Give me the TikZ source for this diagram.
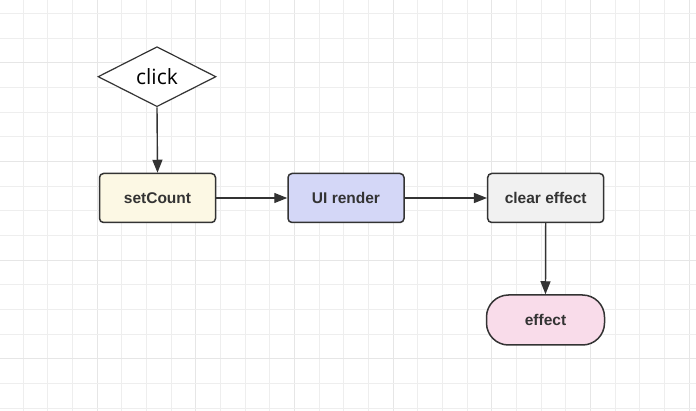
\documentclass[tikz,border=0pt]{standalone}
\usepackage{fontspec}
\setmainfont{Liberation Sans}
\newfontfamily\clickfont{Open Sans}
\usetikzlibrary{shapes.geometric,arrows.meta}
\definecolor{gridminor}{HTML}{EEEEEE}
\definecolor{gridmajor}{HTML}{E6E6E6}
\definecolor{edgec}{HTML}{333333}
\definecolor{textc}{HTML}{333333}
\definecolor{fillset}{HTML}{FCF8E4}
\definecolor{fillui}{HTML}{D4D7F7}
\definecolor{fillclear}{HTML}{F1F1F1}
\definecolor{filleffect}{HTML}{F9DCEA}
\tikzset{
  boxnode/.style={draw=edgec, line width=1.5pt, rounded corners=4pt,
    minimum width=116pt, minimum height=49pt, inner sep=0pt,
    text=textc, font=\bfseries\fontsize{15.5}{18}\selectfont},
  pillnode/.style={boxnode, rounded corners=22pt},
  decisionnode/.style={diamond, draw=edgec, line width=1.2pt, fill=white,
    shape aspect=1.97, minimum width=118pt, minimum height=60pt, inner sep=0pt,
    text=black, font=\clickfont\fontsize{21}{24}\selectfont},
  flowarrow/.style={draw=edgec, line width=1.4pt,
    -{Triangle[length=13pt,width=10pt]}},
  minorline/.style={gridminor, line width=1pt},
  majorline/.style={gridmajor, line width=1pt}
}
\begin{document}
\begin{tikzpicture}[x=1pt,y=-1pt]
\useasboundingbox (0,0) rectangle (696,411);
\fill[white] (0,0) rectangle (696,411);
% grid
\foreach \i in {0,...,27} {
  \pgfmathsetmacro\gx{round(22.7+24.67*\i)+0.5}
  \pgfmathtruncatemacro\gm{mod(\i,4)}
  \ifnum\gm=3
    \draw[majorline] (\gx,0) -- (\gx,411);
  \else
    \draw[minorline] (\gx,0) -- (\gx,411);
  \fi
}
\foreach \j in {0,...,16} {
  \pgfmathsetmacro\gy{round(13+24.67*\j)+0.5}
  \pgfmathtruncatemacro\gm{mod(\j,4)}
  \ifnum\gm=2
    \draw[majorline] (0,\gy) -- (696,\gy);
  \else
    \draw[minorline] (0,\gy) -- (696,\gy);
  \fi
}
% nodes
\node[decisionnode] (click) at (157,76.7) {click};
\node[boxnode, fill=fillset] (set) at (157.5,198) {setCount};
\node[boxnode, fill=fillui] (ui) at (346,198) {UI render};
\node[boxnode, fill=fillclear] (clear) at (545.7,198) {clear effect};
\node[pillnode, fill=filleffect, minimum width=118pt, minimum height=50pt] (effect) at (545.5,320) {effect};
% connectors
\draw[flowarrow] (click.south) -- (set.north);
\draw[flowarrow] (set.east) -- (ui.west);
\draw[flowarrow] (ui.east) -- (clear.west);
\draw[flowarrow] (clear.south) -- (effect.north);
\end{tikzpicture}
\end{document}
